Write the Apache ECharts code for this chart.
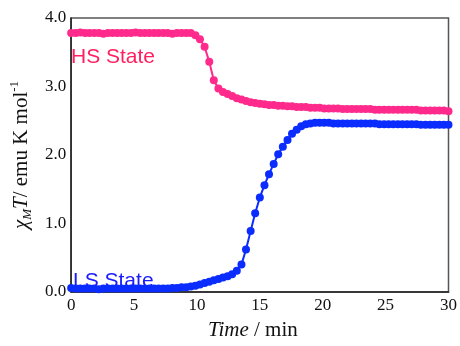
<!DOCTYPE html>
<html>
<head>
<meta charset="utf-8">
<script src="https://cdn.jsdelivr.net/npm/echarts@6/dist/echarts.min.js"></script>
<style>
  html, body { margin: 0; padding: 0; background: #fff; }
  #chart { width: 460px; height: 346px; }
</style>
</head>
<body>
<div id="chart"></div>
<script>
// Measurement times (min)
const times = [
  0.00, 0.37, 0.73, 1.10, 1.46, 1.83, 2.20, 2.56, 2.93, 3.29,
  3.66, 4.02, 4.39, 4.76, 5.12, 5.49, 5.85, 6.22, 6.59, 6.95,
  7.32, 7.68, 8.05, 8.41, 8.78, 9.15, 9.51, 9.88, 10.24, 10.61,
  10.98, 11.34, 11.71, 12.07, 12.44, 12.80, 13.17, 13.54, 13.90, 14.27,
  14.63, 15.00, 15.37, 15.73, 16.10, 16.46, 16.83, 17.20, 17.56, 17.93,
  18.29, 18.66, 19.02, 19.39, 19.76, 20.12, 20.49, 20.85, 21.22, 21.59,
  21.95, 22.32, 22.68, 23.05, 23.41, 23.78, 24.15, 24.51, 24.88, 25.24,
  25.61, 25.98, 26.34, 26.71, 27.07, 27.44, 27.80, 28.17, 28.54, 28.90,
  29.27, 29.63, 30.00
];

// chi_M T (emu K mol^-1), high-spin start
const hsValues = [
  3.78, 3.78, 3.79, 3.78, 3.78, 3.78, 3.78, 3.77, 3.78, 3.78,
  3.78, 3.78, 3.78, 3.78, 3.79, 3.78, 3.78, 3.78, 3.78, 3.78,
  3.78, 3.78, 3.77, 3.78, 3.78, 3.78, 3.78, 3.75, 3.69, 3.58,
  3.36, 3.09, 2.97, 2.92, 2.89, 2.86, 2.83, 2.81, 2.79, 2.77,
  2.76, 2.75, 2.74, 2.73, 2.73, 2.72, 2.72, 2.71, 2.71, 2.70,
  2.70, 2.70, 2.69, 2.69, 2.69, 2.68, 2.68, 2.68, 2.68, 2.67,
  2.67, 2.67, 2.67, 2.67, 2.67, 2.67, 2.66, 2.66, 2.66, 2.66,
  2.66, 2.66, 2.66, 2.66, 2.66, 2.66, 2.65, 2.65, 2.65, 2.65,
  2.65, 2.65, 2.64
];

// chi_M T (emu K mol^-1), low-spin start
const lsValues = [
  0.06, 0.05, 0.05, 0.05, 0.05, 0.05, 0.04, 0.05, 0.05, 0.05,
  0.05, 0.05, 0.05, 0.05, 0.05, 0.05, 0.05, 0.05, 0.05, 0.05,
  0.05, 0.05, 0.06, 0.06, 0.07, 0.07, 0.08, 0.09, 0.11, 0.13,
  0.15, 0.17, 0.19, 0.21, 0.23, 0.26, 0.31, 0.40, 0.62, 0.89,
  1.15, 1.38, 1.56, 1.72, 1.87, 2.01, 2.12, 2.22, 2.31, 2.37,
  2.42, 2.45, 2.46, 2.47, 2.47, 2.47, 2.47, 2.46, 2.46, 2.46,
  2.46, 2.46, 2.46, 2.46, 2.46, 2.46, 2.46, 2.45, 2.45, 2.45,
  2.45, 2.45, 2.45, 2.45, 2.45, 2.45, 2.44, 2.44, 2.44, 2.44,
  2.44, 2.44, 2.44
];

const xTicks = [0, 5, 10, 15, 20, 25, 30];
const yTicks = [0.0, 1.0, 2.0, 3.0, 4.0];

const HS_COLOR = '#ff2a8c';
const LS_COLOR = '#0a2cff';
const SERIF = '"Liberation Serif", "Times New Roman", serif';
const SANS = '"Liberation Sans", Arial, sans-serif';

function pairs(xs, ys) {
  const n = Math.min(xs.length, ys.length);
  const out = [];
  for (let i = 0; i < n; i++) out.push([xs[i], ys[i]]);
  return out;
}

const chart = echarts.init(document.getElementById('chart'), null, { renderer: 'canvas' });

chart.setOption({
  animation: false,
  backgroundColor: '#fff',
  grid: {
    left: 67, right: 7, top: 18, bottom: 38,
    show: true, borderColor: '#555', borderWidth: 1.5, backgroundColor: 'transparent'
  },
  xAxis: {
    type: 'value',
    min: xTicks[0], max: xTicks[xTicks.length - 1], interval: 5,
    axisLine: { show: true, onZero: false, lineStyle: { color: '#222', width: 1.5 } },
    axisTick: { show: false },
    splitLine: { show: false },
    axisLabel: { color: '#111', fontFamily: SERIF, fontSize: 17, margin: 5 },
    name: '{it|Time} / min',
    nameLocation: 'middle',
    nameGap: 28,
    nameTextStyle: {
      color: '#111', fontFamily: SERIF, fontSize: 21,
      padding: [0, 14, 0, 0],
      rich: { it: { fontStyle: 'italic', fontFamily: SERIF, fontSize: 21, color: '#111' } }
    }
  },
  yAxis: {
    type: 'value',
    min: yTicks[0], max: yTicks[yTicks.length - 1], interval: 1,
    axisLine: { show: true, onZero: false, lineStyle: { color: '#222', width: 1.5 } },
    axisTick: { show: false },
    splitLine: { show: false },
    axisLabel: {
      color: '#111', fontFamily: SERIF, fontSize: 17, margin: 5,
      formatter: v => v.toFixed(1)
    },
    name: '{it|χ}{sub|M}{it|T}/ emu K mol{sup|-1}',
    nameLocation: 'middle',
    nameRotate: 90,
    nameGap: 29,
    nameTextStyle: {
      color: '#111', fontFamily: SERIF, fontSize: 21,
      rich: {
        it: { fontStyle: 'italic', fontFamily: SERIF, fontSize: 21, color: '#111', lineHeight: 26 },
        sub: { fontStyle: 'italic', fontFamily: SERIF, fontSize: 13, color: '#111', verticalAlign: 'bottom', lineHeight: 26 },
        sup: { fontFamily: SERIF, fontSize: 13, color: '#111', verticalAlign: 'top', lineHeight: 26 }
      }
    }
  },
  series: [
    {
      name: 'HS State',
      type: 'line',
      data: pairs(times, hsValues),
      symbol: 'circle',
      symbolSize: 8,
      showSymbol: true,
      itemStyle: { color: HS_COLOR },
      lineStyle: { color: HS_COLOR, width: 2 },
      z: 3
    },
    {
      name: 'LS State',
      type: 'line',
      data: pairs(times, lsValues),
      symbol: 'circle',
      symbolSize: 8,
      showSymbol: true,
      itemStyle: { color: LS_COLOR },
      lineStyle: { color: LS_COLOR, width: 2 },
      z: 3
    }
  ],
  graphic: [
    {
      type: 'text', left: 71, top: 47,
      style: { text: 'HS State', fill: '#ff1f5e', font: '21px ' + SANS }
    },
    {
      type: 'text', left: 73, top: 271,
      style: { text: 'LS State', fill: '#1a1aff', font: '21px ' + SANS }
    }
  ]
});
</script>
</body>
</html>
